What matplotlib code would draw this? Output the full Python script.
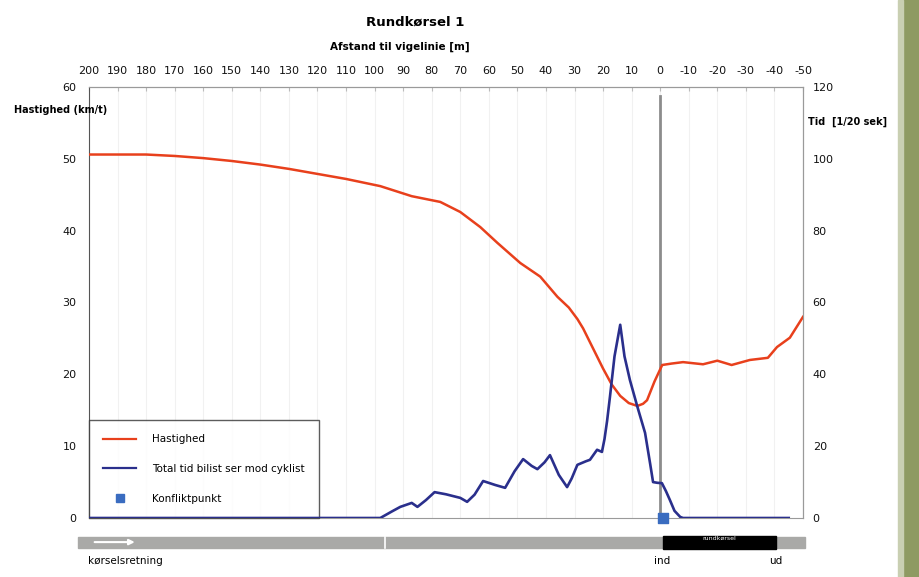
import matplotlib
matplotlib.use("Agg")
import matplotlib.pyplot as plt
from matplotlib.patches import Rectangle
from matplotlib.lines import Line2D

# ---- data ----
speed_x = [200, 190, 180, 170, 160, 150, 140, 130, 120, 110, 98, 87, 77, 70, 63, 57, 49, 42,
           36, 32, 29, 27, 25, 20, 17, 14, 11, 8, 6, 4.6, 2, -0.7, -4, -8, -15, -20, -25,
           -31.4, -37.7, -40.9, -45.4, -50]
speed_y = [50.6, 50.6, 50.6, 50.4, 50.1, 49.7, 49.2, 48.6, 47.9, 47.2, 46.2, 44.8, 44.0, 42.6,
           40.5, 38.3, 35.5, 33.6, 30.8, 29.3, 27.7, 26.4, 24.8, 20.8, 18.6, 17.0, 16.0, 15.6,
           15.9, 16.4, 19.0, 21.3, 21.5, 21.7, 21.4, 21.9, 21.3, 22.0, 22.3, 23.8, 25.1, 28.0]

tid_x = [200, 98, 94, 91, 87, 85, 82, 79, 75, 72.5, 70, 67.6, 65, 62, 57.8, 54.3, 51, 48, 45,
         43, 40.5, 38.6, 35.5, 32.6, 31, 29, 26, 24.6, 22.1, 20.4, 19.5, 18.6, 17.6, 16, 14,
         12.5, 10.6, 8, 5.3, 3.5, 2.5, 1.0, -0.6, -2, -3.4, -5, -7, -8, -45]
tid_y = [0, 0, 1.8, 3.1, 4.2, 3.1, 5.0, 7.2, 6.6, 6.1, 5.6, 4.5, 6.5, 10.3, 9.2, 8.4, 13.0,
         16.4, 14.5, 13.6, 15.5, 17.5, 12.0, 8.6, 11.0, 14.8, 15.8, 16.2, 19.0, 18.4, 22.0,
         27.0, 33.7, 45.0, 53.8, 45.0, 38.4, 31.0, 23.7, 15.0, 10.0, 9.8, 9.7, 7.5, 5.0, 2.0,
         0.3, 0, 0]

konflikt_x = [-1]
konflikt_y = [0]

x_ticks = [200, 190, 180, 170, 160, 150, 140, 130, 120, 110, 100, 90, 80, 70, 60, 50, 40, 30,
           20, 10, 0, -10, -20, -30, -40, -50]
left_ticks = [0, 10, 20, 30, 40, 50, 60]
right_ticks = [0, 20, 40, 60, 80, 100, 120]

W, H = 920, 577
fig = plt.figure(figsize=(9.2, 5.77), dpi=100)
fig.patch.set_facecolor("white")

def fx(px):
    return px / W

def fy(py):
    return 1 - py / H

L, R, T, B = 89, 803, 87, 518
ax = fig.add_axes([fx(L), fy(B), (R - L) / W, (B - T) / H])
ax.set_xlim(200, -50)
ax.set_ylim(0, 60)
ax2 = ax.twinx()
ax2.set_ylim(0, 120)

# grid
for xv in x_ticks:
    ax.axvline(xv, color="#f1f1f1", lw=0.8, zorder=0)

ax.axvline(0, color="#8c8c8c", lw=2, ymax=0.98, zorder=1)

ax.plot(speed_x, speed_y, color="#e8401c", lw=1.8, zorder=3, solid_joinstyle="round")
ax2.plot(tid_x, tid_y, color="#2a2f8c", lw=1.9, zorder=3, solid_joinstyle="round")
ax2.scatter(konflikt_x, konflikt_y, marker="s", s=45, color="#3a6cc0", zorder=5, clip_on=False)

# spines
for s in ["top", "right"]:
    ax.spines[s].set_color("#9a9a9a")
    ax2.spines[s].set_color("#9a9a9a")
ax.spines["left"].set_color("#555555")
ax.spines["bottom"].set_color("#9a9a9a")
ax2.spines["left"].set_visible(False)
ax2.spines["bottom"].set_visible(False)

ax.xaxis.tick_top()
ax.set_xticks(x_ticks)
ax.set_xticklabels([str(v) for v in x_ticks])
ax.tick_params(axis="x", direction="in", length=3, color="#bbbbbb", labelsize=8, pad=8,
               labelcolor="#111111")
ax.set_yticks(left_ticks)
ax.tick_params(axis="y", length=0, labelsize=8, pad=9, labelcolor="#111111")
ax2.set_yticks(right_ticks)
ax2.tick_params(axis="y", length=0, labelsize=8, pad=7, labelcolor="#111111")

# legend
handles = [Line2D([], [], color="#e8401c", lw=1.6),
           Line2D([], [], color="#2a2f8c", lw=1.6),
           Line2D([], [], color="#3a6cc0", marker="s", ls="none", markersize=6)]
labels = ["Hastighed", "Total tid bilist ser mod cyklist", "Konfliktpunkt"]
leg = ax.legend(handles, labels, loc="lower left", bbox_to_anchor=(0, 0), fontsize=7.5,
                frameon=True, fancybox=False, edgecolor="#333333", handlelength=3.2,
                labelspacing=1.9, borderpad=1.35, handletextpad=1.5, borderaxespad=0)
leg.get_frame().set_linewidth(1.0)
leg.set_zorder(10)

# texts
fig.text(fx(415), fy(22), "Rundkørsel 1", ha="center", va="center", fontsize=9.5,
         fontweight="bold")
fig.text(fx(400), fy(47), "Afstand til vigelinie [m]", ha="center", va="center", fontsize=7.5,
         fontweight="bold")
fig.text(fx(14), fy(110), "Hastighed (km/t)", ha="left", va="center", fontsize=7,
         fontweight="bold")
fig.text(fx(808), fy(122), "Tid  [1/20 sek]", ha="left", va="center", fontsize=7,
         fontweight="bold")

# bottom direction bar
bx = fig.add_axes([fx(L), fy(552), (R - L) / W, 22 / H])
bx.set_xlim(200, -50)
bx.set_ylim(0, 1)
bx.axis("off")
bx.add_patch(Rectangle((203.9, 0.2), -254.6, 0.5, color="#a9a9a7", clip_on=False))
bx.plot([96.4, 96.4], [0.2, 0.7], color="white", lw=1.2, clip_on=False)
bx.add_patch(Rectangle((-1, 0.15), -39.5, 0.6, color="black", clip_on=False))
bx.text(-20.7, 0.62, "rundkørsel", color="white", fontsize=4.5, ha="center", va="center")
bx.annotate("", xy=(183, 0.45), xytext=(199, 0.45),
            arrowprops=dict(arrowstyle="-|>", color="white", lw=1.5, mutation_scale=8))

fig.text(fx(88), fy(561), "kørselsretning", ha="left", va="center", fontsize=7.5)
fig.text(fx(662), fy(561), "ind", ha="center", va="center", fontsize=7.5)
fig.text(fx(776), fy(561), "ud", ha="center", va="center", fontsize=7.5)

# decorative right border
fig.patches.append(Rectangle((fx(903), 0), fx(17), 1, transform=fig.transFigure,
                             color="#8e9a62", zorder=-1))
fig.patches.append(Rectangle((fx(898), 0), fx(5), 1, transform=fig.transFigure,
                             color="#c9cfb2", zorder=-1))

fig.savefig("out.png", dpi=100)
